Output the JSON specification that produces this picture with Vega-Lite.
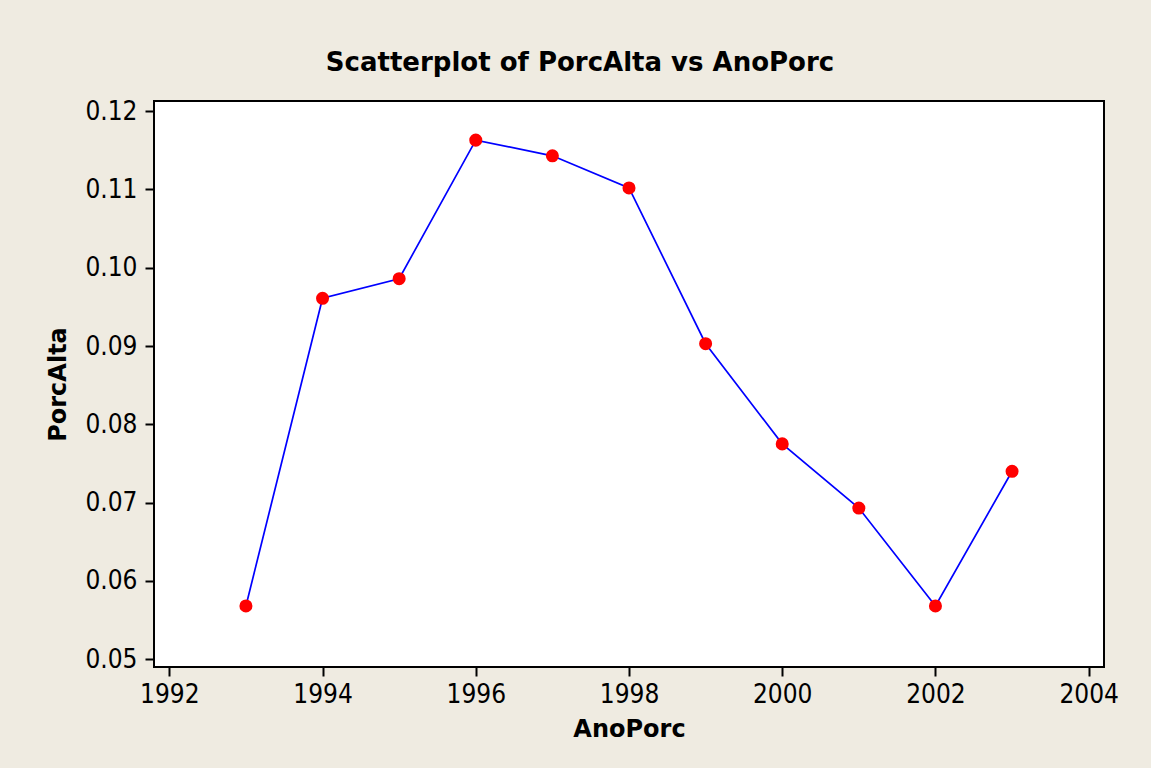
{
  "$schema": "https://vega.github.io/schema/vega-lite/v6.json",
  "autosize": {"type": "none"},
  "width": 950,
  "height": 566,
  "padding": {"left": 154, "top": 101, "right": 47, "bottom": 101},
  "background": "#efebe1",
  "title": {
    "text": "Scatterplot of PorcAlta vs AnoPorc",
    "font": "DejaVu Sans",
    "fontSize": 26,
    "fontWeight": "bold",
    "color": "black",
    "anchor": "middle",
    "dx": -49,
    "offset": 22
  },
  "data": {
    "values": [
      {"AnoPorc": 1993, "PorcAlta": 0.0568},
      {"AnoPorc": 1994, "PorcAlta": 0.0961},
      {"AnoPorc": 1995, "PorcAlta": 0.0986},
      {"AnoPorc": 1996, "PorcAlta": 0.1163},
      {"AnoPorc": 1997, "PorcAlta": 0.1143},
      {"AnoPorc": 1998, "PorcAlta": 0.1102},
      {"AnoPorc": 1999, "PorcAlta": 0.0903},
      {"AnoPorc": 2000, "PorcAlta": 0.0775},
      {"AnoPorc": 2001, "PorcAlta": 0.0693},
      {"AnoPorc": 2002, "PorcAlta": 0.0568},
      {"AnoPorc": 2003, "PorcAlta": 0.0740}
    ]
  },
  "encoding": {
    "x": {
      "field": "AnoPorc",
      "type": "quantitative",
      "scale": {"domain": [1991.8, 2004.2], "nice": false, "zero": false},
      "axis": {"values": [1992, 1994, 1996, 1998, 2000, 2002, 2004], "format": "d", "title": "AnoPorc", "titlePadding": 10}
    },
    "y": {
      "field": "PorcAlta",
      "type": "quantitative",
      "scale": {"domain": [0.049, 0.1213], "nice": false, "zero": false},
      "axis": {"values": [0.05, 0.06, 0.07, 0.08, 0.09, 0.10, 0.11, 0.12], "format": ".2f", "title": "PorcAlta", "titlePadding": 14}
    }
  },
  "layer": [
    {"mark": {"type": "line", "color": "#0000ff", "strokeWidth": 1.7}},
    {"mark": {"type": "point", "filled": true, "color": "#ff0000", "opacity": 1, "size": 170}}
  ],
  "config": {
    "view": {"fill": "white", "stroke": "black", "strokeWidth": 2},
    "axis": {
      "domain": false,
      "grid": false,
      "tickColor": "black",
      "tickWidth": 2,
      "tickSize": 9,
      "labelFont": "DejaVu Sans Condensed, DejaVu Sans",
      "labelFontSize": 26,
      "labelColor": "black",
      "labelPadding": 5,
      "titleFont": "DejaVu Sans",
      "titleFontSize": 24,
      "titleFontWeight": "bold",
      "titleColor": "black"
    },
    "axisY": {"labelPadding": 8}
  }
}
